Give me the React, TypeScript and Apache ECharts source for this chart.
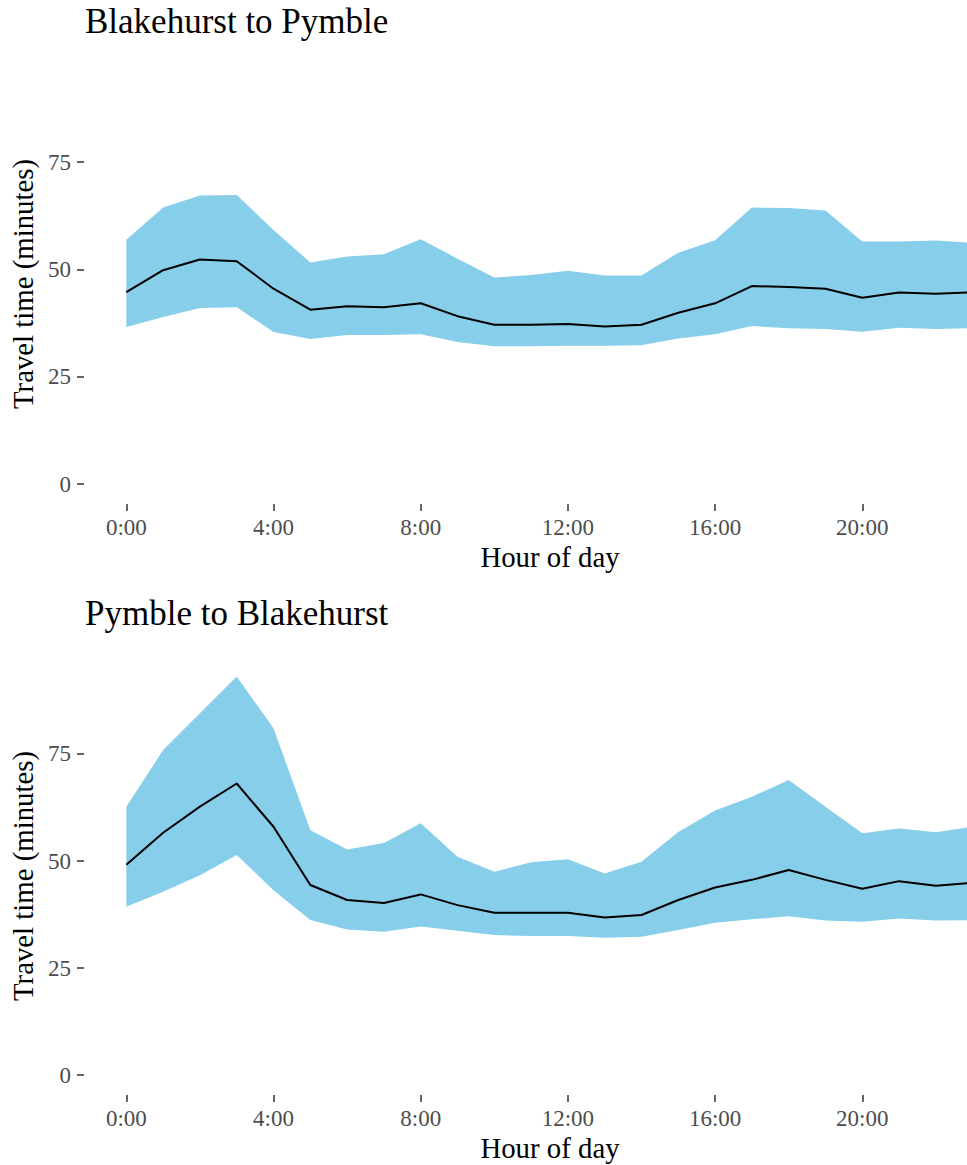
import React, { useEffect, useRef } from "react";
import * as echarts from "echarts";

const hours = [0, 1, 2, 3, 4, 5, 6, 7, 8, 9, 10, 11, 12, 13, 14, 15, 16, 17, 18, 19, 20, 21, 22, 23];

const panelTitles = ["Blakehurst to Pymble", "Pymble to Blakehurst"];
const xAxisTitle = "Hour of day";
const yAxisTitle = "Travel time (minutes)";
const xTicks = [0, 4, 8, 12, 16, 20];
const yTicks = [0, 25, 50, 75];

const topUpper = [56.9, 64.4, 67.2, 67.3, 59.2, 51.6, 53.0, 53.5, 57.0, 52.5, 48.1, 48.7, 49.7, 48.6, 48.6, 53.9, 56.8, 64.4, 64.3, 63.7, 56.5, 56.5, 56.7, 56.2];
const topMean = [44.7, 49.8, 52.3, 51.9, 45.5, 40.6, 41.4, 41.2, 42.1, 39.1, 37.1, 37.1, 37.3, 36.7, 37.1, 39.9, 42.1, 46.1, 45.9, 45.5, 43.4, 44.6, 44.3, 44.7];
const topLower = [36.6, 38.9, 41.0, 41.2, 35.4, 33.8, 34.7, 34.7, 34.9, 33.1, 32.1, 32.1, 32.2, 32.2, 32.3, 33.9, 34.9, 36.8, 36.3, 36.1, 35.5, 36.4, 36.1, 36.3];

const botUpper = [62.7, 75.9, 84.5, 93.1, 81.0, 57.2, 52.7, 54.2, 58.8, 51.0, 47.5, 49.7, 50.4, 47.1, 49.8, 56.8, 61.8, 65.0, 68.9, 62.7, 56.5, 57.6, 56.7, 58.0];
const botMean = [49.1, 56.6, 62.7, 68.1, 58.0, 44.4, 40.9, 40.2, 42.2, 39.7, 37.9, 37.9, 37.9, 36.8, 37.4, 40.9, 43.8, 45.6, 47.9, 45.6, 43.5, 45.3, 44.2, 44.9];
const botLower = [39.3, 42.8, 46.7, 51.4, 43.2, 36.2, 34.0, 33.5, 34.7, 33.7, 32.7, 32.5, 32.5, 32.1, 32.3, 33.9, 35.6, 36.4, 37.1, 36.1, 35.8, 36.6, 36.1, 36.2];

const FONT = "'Liberation Serif', 'Times New Roman', serif";
const BAND = "#87CEEB";

// ggplot-like expanded ranges (5% each side)
const X_MIN = -1.15;
const X_MAX = 24.15;
const Y_MIN = -4.65;
const Y_MAX = 97.65;

function panelSeries(i: number, lower: number[], mean: number[], upper: number[]) {
  const bandData = hours.map((h, k) => [h, lower[k], upper[k]]);
  return [
    {
      type: "custom",
      name: "band" + i,
      xAxisIndex: i,
      yAxisIndex: i,
      silent: true,
      data: bandData,
      encode: { x: 0, y: [1, 2] },
      z: 2,
      renderItem: (params: any, api: any) => {
        if (params.dataIndex !== 0) return null;
        const top = bandData.map((d) => api.coord([d[0], d[2]]));
        const bottom = bandData.map((d) => api.coord([d[0], d[1]])).reverse();
        return {
          type: "polygon",
          shape: { points: top.concat(bottom) },
          style: { fill: BAND, stroke: null },
        };
      },
    },
    {
      type: "line",
      name: "mean" + i,
      xAxisIndex: i,
      yAxisIndex: i,
      symbol: "none",
      silent: true,
      data: hours.map((h, k) => [h, mean[k]]),
      lineStyle: { color: "#000000", width: 2 },
      z: 5,
    },
  ];
}

function xAxisCfg(i: number) {
  return {
    type: "value",
    gridIndex: i,
    min: X_MIN,
    max: X_MAX,
    axisLine: { show: false, onZero: false },
    splitLine: { show: false },
    axisTick: {
      show: true,
      length: 7,
      customValues: xTicks,
      lineStyle: { color: "#333333", width: 1.5 },
    },
    axisLabel: {
      margin: 12,
      customValues: xTicks,
      fontFamily: FONT,
      fontSize: 23,
      color: "#4D4D4D",
      formatter: (v: number) => `${v}:00`,
    },
  };
}

function yAxisCfg(i: number) {
  return {
    type: "value",
    gridIndex: i,
    min: Y_MIN,
    max: Y_MAX,
    axisLine: { show: false, onZero: false },
    splitLine: { show: false },
    axisTick: {
      show: true,
      length: 7,
      customValues: yTicks,
      lineStyle: { color: "#333333", width: 1.5 },
    },
    axisLabel: {
      margin: 13,
      customValues: yTicks,
      fontFamily: FONT,
      fontSize: 23,
      color: "#4D4D4D",
      formatter: (v: number) => `${v}`,
    },
  };
}

function textEl(text: string, x: number, y: number, size: number, align: string, rotation = 0) {
  return {
    type: "text",
    x,
    y,
    rotation,
    silent: true,
    style: {
      text,
      fill: "#000000",
      font: `${size}px ${FONT}`,
      fontFamily: FONT,
      fontSize: size,
      align,
      verticalAlign: "middle",
      textAlign: align,
      textVerticalAlign: "middle",
    },
  };
}

export default function App() {
  const ref = useRef<HTMLDivElement>(null);
  useEffect(() => {
    if (!ref.current) return;
    const chart = echarts.init(ref.current, null, { renderer: "svg" });
    chart.setOption({
      animation: false,
      backgroundColor: "#ffffff",
      grid: [
        { left: 84, top: 64.8, width: 931, height: 439.2 },
        { left: 84, top: 657, width: 931, height: 438 },
      ],
      xAxis: [xAxisCfg(0), xAxisCfg(1)],
      yAxis: [yAxisCfg(0), yAxisCfg(1)],
      series: [
        ...panelSeries(0, topLower, topMean, topUpper),
        ...panelSeries(1, botLower, botMean, botUpper),
      ],
      graphic: [
        textEl(panelTitles[0], 85, 21, 35, "left"),
        textEl(panelTitles[1], 85, 613, 35, "left"),
        textEl(xAxisTitle, 550, 557, 28.8, "center"),
        textEl(xAxisTitle, 550, 1148, 28.8, "center"),
        textEl(yAxisTitle, 23, 284, 28.8, "center", Math.PI / 2),
        textEl(yAxisTitle, 23, 876, 28.8, "center", Math.PI / 2),
      ],
    });
    return () => chart.dispose();
  }, []);
  return (
    <div
      style={{
        position: "absolute",
        left: 0,
        top: 0,
        width: 967,
        height: 1165,
        overflow: "hidden",
        background: "#ffffff",
      }}
    >
      <div ref={ref} style={{ width: 1015, height: 1165 }} />
    </div>
  );
}
